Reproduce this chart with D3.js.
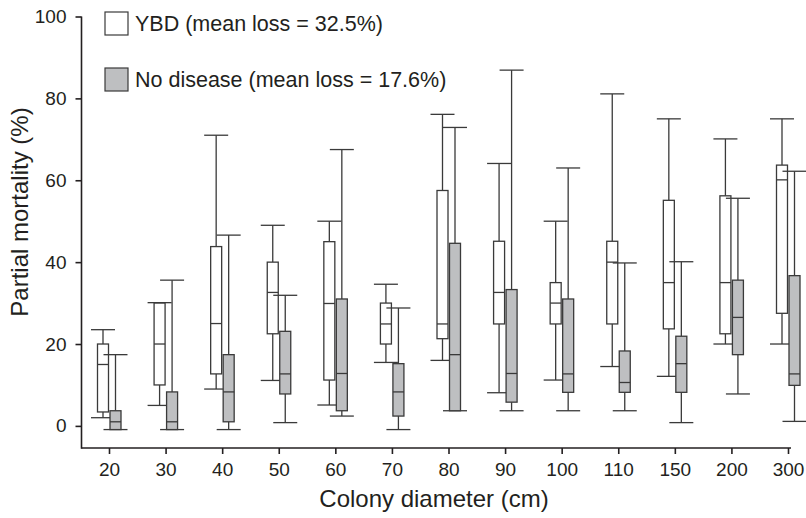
<!DOCTYPE html>
<meta charset="utf-8">
<style>
body { margin: 0; background: #fff; }
text { font-family: "Liberation Sans", Arial, sans-serif; fill: #231f20; }
.axis path, .axis line { stroke: #231f20; stroke-width: 1.6px; }
.box { stroke: #3a3a3a; stroke-width: 1.3px; }
.whisker { stroke: #3a3a3a; stroke-width: 1.3px; }
</style>
<svg width="806" height="518"></svg>
<script src="https://d3js.org/d3.v7.min.js"></script>
<script>
// colony diameter classes
var categories = ["20", "30", "40", "50", "60", "70", "80", "90", "100", "110", "150", "200", "300"];

// YBD colonies (partial mortality, %)
var ybdMin = [2.0, 5.0, 9.0, 11.1, 5.1, 15.5, 16.0, 8.1, 11.2, 14.5, 12.1, 20.0, 20.0];
var ybdQ1  = [3.4, 10.0, 12.7, 22.5, 11.2, 20.0, 21.3, 24.9, 24.9, 24.9, 23.7, 22.5, 27.5];
var ybdMed = [15.0, 20.0, 25.0, 32.6, 29.9, 24.9, 24.9, 32.6, 30.0, 40.0, 35.0, 35.0, 60.1];
var ybdQ3  = [20.0, 30.0, 43.8, 40.0, 45.0, 30.0, 57.5, 45.1, 35.0, 45.1, 55.1, 56.2, 63.7];
var ybdMax = [23.5, 30.1, 71.0, 49.0, 50.0, 34.6, 76.1, 64.1, 50.0, 81.1, 75.0, 70.1, 75.0];

// colonies without disease
var noMin = [-0.9, -0.9, -0.9, 0.8, 2.4, -0.9, 3.7, 3.7, 3.7, 3.7, 0.8, 7.8, 1.1];
var noQ1  = [-0.9, -0.9, 1.0, 7.8, 3.7, 2.4, 3.7, 5.8, 8.2, 8.2, 8.2, 17.4, 9.9];
var noMed = [1.0, 1.0, 8.3, 12.7, 12.8, 8.3, 17.4, 12.8, 12.7, 10.6, 15.2, 26.5, 12.7];
var noQ3  = [3.7, 8.3, 17.4, 23.1, 31.0, 15.2, 44.6, 33.3, 31.0, 18.3, 21.9, 35.6, 36.7];
var noMax = [17.4, 35.6, 46.6, 31.9, 67.5, 28.8, 72.9, 86.9, 63.0, 39.8, 40.1, 55.6, 62.2];

var yTicks = [0, 20, 40, 60, 80, 100];
var legendLabels = ["YBD (mean loss = 32.5%)", "No disease (mean loss = 17.6%)"];
var fills = ["#ffffff", "#bebfc1"];

var svg = d3.select("svg");

var x = d3.scalePoint().domain(categories).range([109, 788]);
var y = d3.scaleLinear().domain([-5.4, 100]).range([448, 16.5]);

// y axis
var yAxis = svg.append("g")
    .attr("class", "axis")
    .attr("transform", "translate(81.5,0)")
    .call(d3.axisLeft(y).tickValues(yTicks).tickSize(6).tickSizeOuter(0).tickPadding(9));
yAxis.select(".domain").remove();
yAxis.append("line").attr("y1", y(100)).attr("y2", 448.8);
yAxis.selectAll("text").style("font-size", "19px").attr("fill", "#231f20");

// x axis
var xAxis = svg.append("g")
    .attr("class", "axis")
    .attr("transform", "translate(0,448)")
    .call(d3.axisBottom(x).tickSize(6).tickPadding(9));
xAxis.select(".domain").remove();
xAxis.append("line").attr("x1", 81.5).attr("x2", 791);
xAxis.selectAll("text").style("font-size", "19px").attr("fill", "#231f20");

// axis titles
svg.append("text")
    .attr("x", 434).attr("y", 507)
    .attr("text-anchor", "middle")
    .style("font-size", "24px")
    .text("Colony diameter (cm)");
svg.append("text")
    .attr("transform", "translate(28,212) rotate(-90)")
    .attr("text-anchor", "middle")
    .style("font-size", "24px")
    .text("Partial mortality (%)");

// boxes
var series = [
  {min: ybdMin, q1: ybdQ1, med: ybdMed, q3: ybdQ3, max: ybdMax, dx: -11.5, fill: fills[0]},
  {min: noMin, q1: noQ1, med: noMed, q3: noQ3, max: noMax, dx: 1, fill: fills[1]}
];
var bw = 11, cap = 24;

series.forEach(function(s) {
  var g = svg.append("g");
  categories.forEach(function(c, i) {
    var x0 = x(c) + s.dx, cx = x0 + bw / 2;
    // whiskers
    g.append("line").attr("class", "whisker")
        .attr("x1", cx).attr("x2", cx).attr("y1", y(s.max[i])).attr("y2", y(s.q3[i]));
    g.append("line").attr("class", "whisker")
        .attr("x1", cx).attr("x2", cx).attr("y1", y(s.q1[i])).attr("y2", y(s.min[i]));
    g.append("line").attr("class", "whisker")
        .attr("x1", cx - cap / 2).attr("x2", cx + cap / 2).attr("y1", y(s.max[i])).attr("y2", y(s.max[i]));
    g.append("line").attr("class", "whisker")
        .attr("x1", cx - cap / 2).attr("x2", cx + cap / 2).attr("y1", y(s.min[i])).attr("y2", y(s.min[i]));
    // box
    g.append("rect").attr("class", "box")
        .attr("x", x0).attr("width", bw)
        .attr("y", y(s.q3[i])).attr("height", y(s.q1[i]) - y(s.q3[i]))
        .attr("fill", s.fill);
    g.append("line").attr("class", "box")
        .attr("x1", x0).attr("x2", x0 + bw).attr("y1", y(s.med[i])).attr("y2", y(s.med[i]));
  });
});

// legend
var legend = svg.append("g").attr("transform", "translate(105,12)");
legendLabels.forEach(function(l, i) {
  legend.append("rect")
      .attr("x", 0).attr("y", i * 56).attr("width", 23).attr("height", 23)
      .attr("fill", fills[i]).attr("stroke", "#3a3a3a").attr("stroke-width", 1.2);
  legend.append("text")
      .attr("x", 30).attr("y", i * 56 + 19)
      .style("font-size", "21.5px")
      .text(l);
});
</script>
